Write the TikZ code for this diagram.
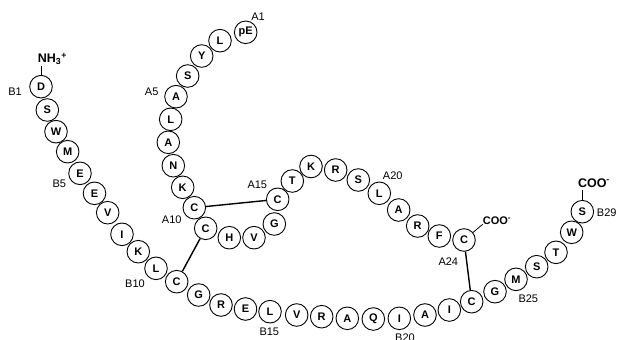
\documentclass[tikz,border=0pt]{standalone}
\usepackage{fontspec}
\setmainfont{Liberation Sans}
\begin{document}
\begin{tikzpicture}[x=1pt,y=-1pt,
  res/.style={circle,draw,line width=0.9pt,minimum size=22.6pt,inner sep=0pt,
    font=\bfseries\fontsize{11}{11}\selectfont},
  lab/.style={inner sep=0pt,font=\fontsize{11}{11}\selectfont},
  term/.style={inner sep=0pt,anchor=base west,font=\bfseries\fontsize{12.5}{12.5}\selectfont},
  ss/.style={line width=1.4pt},
  stub/.style={line width=0.8pt}]
\useasboundingbox (0,0) rectangle (619,340);
% A chain
\node[res] (a1) at (245.7,32.3) {pE};
\node[res] (a2) at (220,40.7) {L};
\node[res] (a3) at (201.7,56) {Y};
\node[res] (a4) at (187.7,76) {S};
\node[res] (a5) at (176,96.7) {A};
\node[res] (a6) at (170.7,119.3) {L};
\node[res] (a7) at (168.3,142.3) {A};
\node[res] (a8) at (173.3,165.7) {N};
\node[res] (a9) at (182.7,187.3) {K};
\node[res] (a10) at (194.3,207.7) {C};
\node[res] (a11) at (205.7,228.3) {C};
\node[res] (a12) at (229.3,237.7) {H};
\node[res] (a13) at (254,237.7) {V};
\node[res] (a14) at (274.3,224) {G};
\node[res] (a15) at (277.7,199.3) {C};
\node[res] (a16) at (292.3,181) {T};
\node[res] (a17) at (311,166.5) {K};
\node[res] (a18) at (335.7,170) {R};
\node[res] (a19) at (358.3,180) {S};
\node[res] (a20) at (379.3,193.3) {L};
\node[res] (a21) at (398.7,210) {A};
\node[res] (a22) at (417.7,226) {R};
\node[res] (a23) at (439.3,236) {F};
\node[res] (a24) at (464,240) {C};
% B chain
\node[res] (b1) at (41,86.7) {D};
\node[res] (b2) at (47.3,110) {S};
\node[res] (b3) at (56,131.7) {W};
\node[res] (b4) at (67.7,151.7) {M};
\node[res] (b5) at (80,173.3) {E};
\node[res] (b6) at (94.5,193.3) {E};
\node[res] (b7) at (107.7,212.7) {V};
\node[res] (b8) at (122,234.3) {I};
\node[res] (b9) at (138.3,251.7) {K};
\node[res] (b10) at (156,268.3) {L};
\node[res] (b11) at (176.7,281.7) {C};
\node[res] (b12) at (198.7,295) {G};
\node[res] (b13) at (221,305) {R};
\node[res] (b14) at (245.5,309) {E};
\node[res] (b15) at (270,311.7) {L};
\node[res] (b16) at (296.7,315) {V};
\node[res] (b17) at (321.7,316.7) {R};
\node[res] (b18) at (347.3,318.3) {A};
\node[res] (b19) at (373.3,319) {Q};
\node[res] (b20) at (399.3,318.3) {I};
\node[res] (b21) at (425,315) {A};
\node[res] (b22) at (449.3,310) {I};
\node[res] (b23) at (471.7,301.7) {C};
\node[res] (b24) at (495,291.7) {G};
\node[res] (b25) at (516,279.3) {M};
\node[res] (b26) at (536.7,266.7) {S};
\node[res] (b27) at (556,252.3) {T};
\node[res] (b28) at (571.7,232.3) {W};
\node[res] (b29) at (582.3,211.7) {S};
% labels
\node[lab] (la1) at (258,17) {A1};
\node[lab] (la5) at (151.7,91.7) {A5};
\node[lab] (la10) at (171.7,220) {A10};
\node[lab] (la15) at (257.3,185) {A15};
\node[lab] (la20) at (392.7,175.7) {A20};
\node[lab] (la24) at (448.3,261.7) {A24};
\node[lab] (lb1) at (15,91.7) {B1};
\node[lab] (lb5) at (59.3,183.3) {B5};
\node[lab] (lb10) at (135,283.3) {B10};
\node[lab] (lb15) at (269.3,331.7) {B15};
\node[lab] (lb20) at (405,338) {B20};
\node[lab] (lb25) at (528.3,298.3) {B25};
\node[lab] (lb29) at (606.7,212.7) {B29};
% termini
\node[term] (nh) at (37.7,62.7) {NH\textsubscript{3}\textsuperscript{+}};
\node[term] (coo2) at (577.8,187) {COO\textsuperscript{-}};
\node[term,font=\bfseries\fontsize{11}{11}\selectfont] (coo1) at (482.7,224) {COO\textsuperscript{-}};
\draw[stub] (b1.north) -- ++(0,-9) coordinate (nhend);
\draw[stub] (b29.north) -- ++(0,-9.5) coordinate (cooend);
\draw[stub] (a24) -- (coo1.south west);
% disulfide bridges
\draw[ss] (a10) -- (a15);
\draw[ss] (a11) -- (b11);
\draw[ss] (a24) -- (b23);
\end{tikzpicture}
\end{document}
